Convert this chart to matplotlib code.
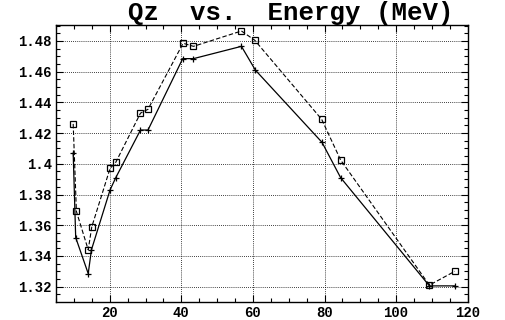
import matplotlib
matplotlib.use("Agg")
import matplotlib.pyplot as plt
from matplotlib.ticker import MultipleLocator, FormatStrFormatter

# energy (MeV) and Qz for the two runs
e_sq = [9.8, 10.7, 14.0, 15.0, 20.1, 21.7, 28.6, 30.7, 40.5, 43.4, 56.8, 60.5, 79.2, 84.5, 109.3, 116.4]
qz_sq = [1.426, 1.369, 1.344, 1.359, 1.397, 1.401, 1.433, 1.4355, 1.4785, 1.4765, 1.4865, 1.4805, 1.429, 1.4025, 1.321, 1.330]

e_pl = [9.8, 10.5, 14.0, 14.9, 20.1, 21.7, 28.6, 30.7, 40.4, 43.4, 56.8, 60.7, 79.3, 84.5, 109.3, 116.4]
qz_pl = [1.407, 1.352, 1.3285, 1.344, 1.383, 1.391, 1.422, 1.422, 1.4685, 1.4685, 1.4765, 1.461, 1.414, 1.391, 1.3205, 1.3205]

mono = "Liberation Mono"

fig = plt.figure(figsize=(5.06, 3.2), dpi=100)
ax = fig.add_axes([56 / 506, 1 - 301.7 / 320, (467.7 - 56) / 506, (301.7 - 25) / 320])

ax.plot(e_sq, qz_sq, color="black", lw=0.8, ls=(0, (4, 2)), marker="s", ms=5,
        mfc="none", mec="black", mew=0.9)
ax.plot(e_pl, qz_pl, color="black", lw=0.9, marker="+", ms=5, mew=0.9)

ax.set_xlim(5, 120)
ax.set_ylim(1.3102, 1.4904)

ax.xaxis.set_major_locator(MultipleLocator(20))
ax.xaxis.set_minor_locator(MultipleLocator(5))
ax.yaxis.set_major_locator(MultipleLocator(0.02))
ax.yaxis.set_minor_locator(MultipleLocator(0.005))
ax.yaxis.set_major_formatter(FormatStrFormatter("%g"))

ax.tick_params(which="both", direction="in", top=True, right=True, width=0.8)
ax.tick_params(which="major", length=5, pad=3)
ax.tick_params(which="minor", length=3)
for lab in ax.get_xticklabels() + ax.get_yticklabels():
    lab.set_fontfamily(mono)
    lab.set_fontweight("bold")
    lab.set_fontsize(10)

ax.grid(True, which="major", color="black", ls=(0, (1, 1.5)), lw=0.6)
for sp in ax.spines.values():
    sp.set_linewidth(1.0)

fig.text(291 / 506, 1 - 20 / 320, "Qz  vs.  Energy (MeV)", ha="center", va="baseline",
         fontfamily=mono, fontweight="bold", fontsize=18.5)

fig.savefig("out.png", dpi=100)
